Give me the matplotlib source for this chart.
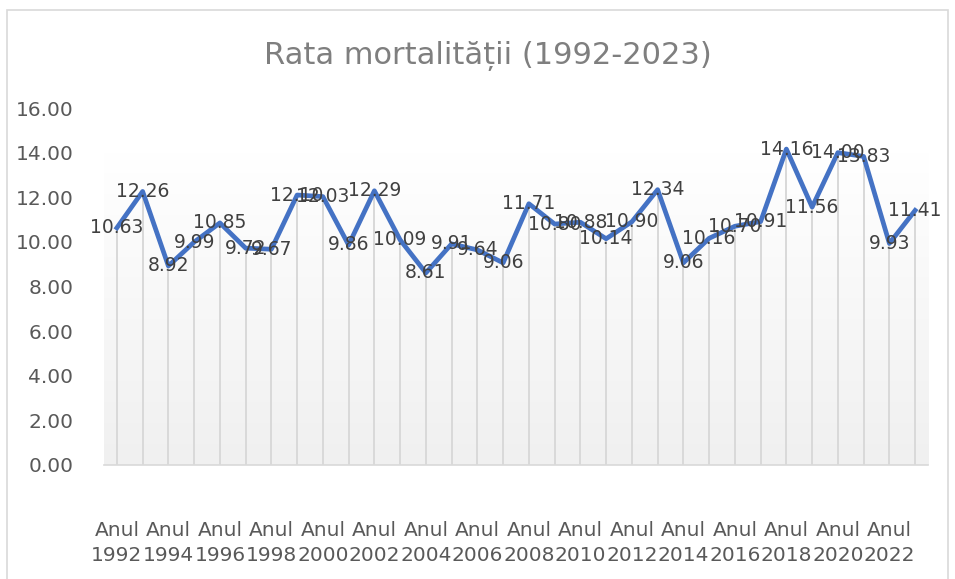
import matplotlib
matplotlib.use("Agg")
import matplotlib.pyplot as plt
import numpy as np
from matplotlib.patches import Rectangle

years = list(range(1992, 2024))
rates = [10.63, 12.26, 8.92, 9.99, 10.85, 9.72, 9.67, 12.10, 12.03, 9.86,
         12.29, 10.09, 8.61, 9.91, 9.64, 9.06, 11.71, 10.80, 10.88, 10.14,
         10.90, 12.34, 9.06, 10.16, 10.70, 10.91, 14.16, 11.56, 14.00, 13.83,
         9.93, 11.41]
title = "Rata mortalității (1992-2023)"
tick_labels = [f"Anul\n{y}" for y in years[::2]]
yticks = [0, 2, 4, 6, 8, 10, 12, 14, 16]

plt.rcParams['font.family'] = ['DejaVu Sans']
fig = plt.figure(figsize=(9.55, 5.79), dpi=100)
W, H = 955, 579
fig.patches.append(Rectangle((7 / W, -0.01), (948 - 7) / W, (579 - 10) / H + 0.01,
                             transform=fig.transFigure, fill=False,
                             edgecolor='#d9d9d9', lw=1.2))

ax = fig.add_axes([104 / W, 1 - 465 / H, (928 - 104) / W, (465 - 108) / H])
x = np.arange(len(years))

# gradient background
grad = np.linspace(0, 1, 256).reshape(-1, 1)
from matplotlib.colors import LinearSegmentedColormap
cmap = LinearSegmentedColormap.from_list('g', ['#f0f0f0', '#ffffff'])
ax.imshow(grad, extent=(-0.5, len(years) - 0.5, 0, 14), origin='lower',
          cmap=cmap, aspect='auto', zorder=0)

ax.vlines(x, 0, rates, colors='#d9d9d9', lw=1.4, zorder=1)
ax.plot(x, rates, color='#4472C4', lw=3.4, solid_joinstyle='round', zorder=3)
for xi, v in zip(x, rates):
    ax.text(xi, v, f"{v:.2f}", ha='center', va='center', fontsize=13.5,
            color='#404040', zorder=4)

ax.set_xlim(-0.5, len(years) - 0.5)
ax.set_ylim(0, 16)
ax.set_yticks(yticks)
ax.set_yticklabels([f"{t:.2f}" for t in yticks])
ax.set_xticks(x[::2])
ax.set_xticklabels(tick_labels, linespacing=1.45)
ax.tick_params(axis='both', length=0, labelsize=14.5, labelcolor='#595959')
ax.tick_params(axis='x', pad=40)
ax.tick_params(axis='y', pad=22)
for s in ['top', 'right', 'left']:
    ax.spines[s].set_visible(False)
ax.spines['bottom'].set_color('#d9d9d9')
ax.spines['bottom'].set_linewidth(1.2)
ax.set_facecolor('white')

fig.text(488 / W, 1 - 56 / H, title, ha='center', va='center', fontsize=22,
         color='#7f7f7f')

fig.savefig('out.png', dpi=100)
